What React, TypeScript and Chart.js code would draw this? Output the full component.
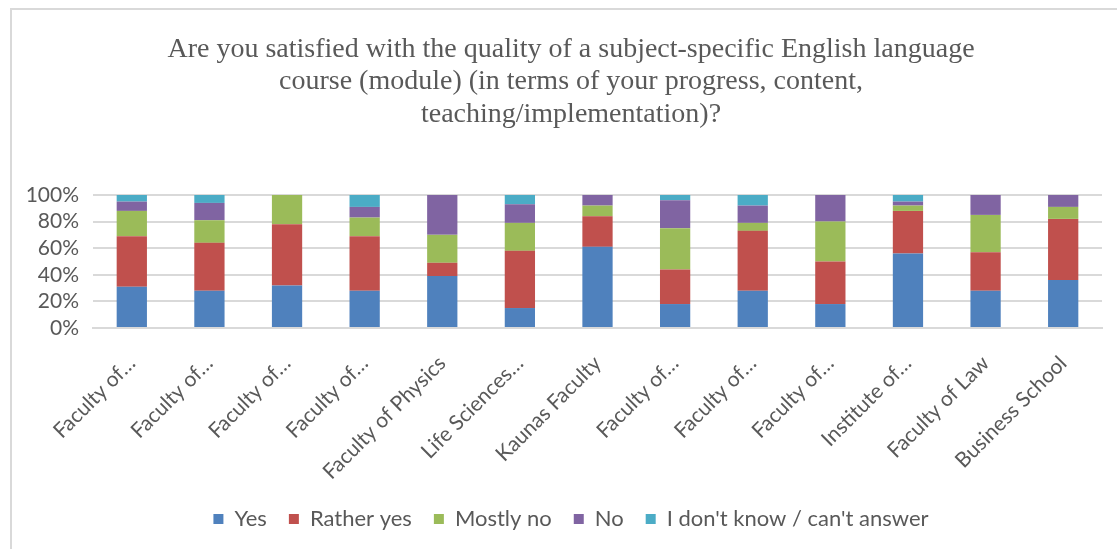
import React, { useEffect, useRef } from "react";
import { Chart, registerables } from "chart.js";

Chart.register(...registerables);

const titleLines = [
  "Are you satisfied with the quality of a subject-specific English language",
  "course (module) (in terms of your progress, content,",
  "teaching/implementation)?",
];

const categories = [
  "Faculty of…",
  "Faculty of…",
  "Faculty of…",
  "Faculty of…",
  "Faculty of Physics",
  "Life Sciences…",
  "Kaunas Faculty",
  "Faculty of…",
  "Faculty of…",
  "Faculty of…",
  "Institute of…",
  "Faculty of Law",
  "Business School",
];

const seriesNames = ["Yes", "Rather yes", "Mostly no", "No", "I don't know / can't answer"];

const yesValues = [31, 28, 32, 28, 39, 15, 61, 18, 28, 18, 56, 28, 36];
const ratherYesValues = [38, 36, 46, 41, 10, 43, 23, 26, 45, 32, 32, 29, 46];
const mostlyNoValues = [19, 17, 22, 14, 21, 21, 8, 31, 6, 30, 4, 28, 9];
const noValues = [7, 13, 0, 8, 30, 14, 8, 21, 13, 20, 3, 15, 9];
const dontKnowValues = [5, 6, 0, 9, 0, 7, 0, 4, 8, 0, 5, 0, 0];

const yTicks = [0, 20, 40, 60, 80, 100];

const seriesColors = ["#4F81BD", "#C0504D", "#9BBB59", "#8064A2", "#4BACC6"];

// center title and legend on the full canvas width
const fullWidthBoxes = {
  id: "fullWidthBoxes",
  afterLayout(chart: any) {
    const t = chart.titleBlock;
    if (t) {
      t.left = 0;
      t.right = chart.width;
      t.width = chart.width;
    }
    const l = chart.legend;
    if (l) {
      l.left = 0;
      l.right = chart.width;
      l.width = chart.width;
    }
  },
};

export default function App() {
  const ref = useRef<HTMLCanvasElement | null>(null);

  useEffect(() => {
    if (!ref.current) return;
    const values = [yesValues, ratherYesValues, mostlyNoValues, noValues, dontKnowValues];
    const chart = new Chart(ref.current, {
      type: "bar",
      data: {
        labels: categories,
        datasets: values.map((d, i) => ({
          label: seriesNames[i],
          data: d,
          backgroundColor: seriesColors[i],
          borderWidth: 0,
          barPercentage: 0.39,
          categoryPercentage: 1,
        })),
      },
      plugins: [fullWidthBoxes],
      options: {
        animation: false,
        responsive: true,
        maintainAspectRatio: false,
        devicePixelRatio: 1,
        layout: { padding: { left: 0, right: 28, top: 0, bottom: 0 } },
        plugins: {
          title: {
            display: true,
            text: titleLines,
            color: "#595959",
            font: { family: "'Liberation Serif', 'Times New Roman', serif", size: 28, weight: "normal", lineHeight: 1.16 },
            padding: { top: 23, bottom: 64.5 },
          },
          legend: {
            position: "bottom",
            labels: {
              boxWidth: 10,
              boxHeight: 10,
              padding: 22,
              color: "#595959",
              font: { family: "Lato", size: 22 },
            },
          },
          tooltip: { enabled: false },
        },
        scales: {
          x: {
            stacked: true,
            grid: { display: false },
            border: { display: true, color: "#d9d9d9", width: 2 },
            ticks: {
              autoSkip: false,
              minRotation: 45,
              maxRotation: 45,
              color: "#595959",
              font: { family: "Lato", size: 21 },
              padding: 15,
            },
            afterFit: (s: any) => {
              s.height = 158;
            },
          },
          y: {
            stacked: true,
            min: 0,
            max: 100,
            afterBuildTicks: (s: any) => {
              s.ticks = yTicks.map((v) => ({ value: v }));
            },
            ticks: {
              autoSkip: false,
              color: "#595959",
              font: { family: "Lato", size: 21 },
              padding: 14,
              callback: (v: any) => v + "%",
            },
            grid: { color: "#d9d9d9", lineWidth: 2, drawTicks: false },
            border: { display: false },
            afterFit: (s: any) => {
              s.width = 81;
            },
          },
        },
      },
    });
    return () => chart.destroy();
  }, []);

  return (
    <div style={{ position: "fixed", inset: 0, overflow: "hidden", background: "#fff" }}>
      <div
        style={{
          position: "absolute",
          left: 10,
          top: 8,
          width: 1120,
          height: 600,
          borderLeft: "2px solid #d9d9d9",
          borderTop: "2px solid #d9d9d9",
        }}
      >
        <div style={{ position: "relative", width: 1118, height: 530 }}>
          <canvas ref={ref} />
        </div>
      </div>
    </div>
  );
}
